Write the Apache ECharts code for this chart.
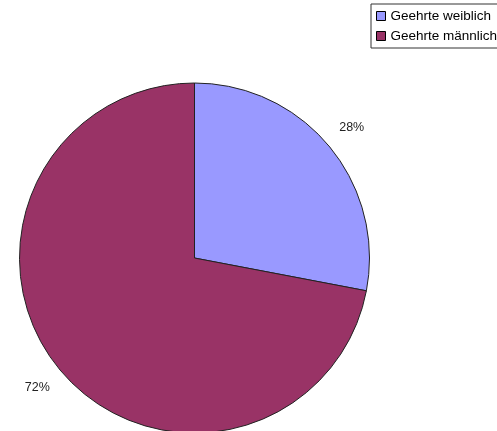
<!DOCTYPE html>
<html><head><meta charset="utf-8">
<script src="https://cdn.jsdelivr.net/npm/echarts@6/dist/echarts.min.js"></script>
<style>html,body{margin:0;padding:0;background:#fff}#c{width:497px;height:431px}</style>
</head><body><div id="c"></div>
<script>
const categories = ['Geehrte weiblich', 'Geehrte männlich'];
const values = [28, 72];
const colors = ['#9999FF', '#993366'];

const data = categories.map((n, i) => ({ name: n, value: values[i], itemStyle: { color: colors[i] } }));
const chart = echarts.init(document.getElementById('c'), null, { renderer: 'canvas' });
chart.setOption({
  animation: false,
  backgroundColor: '#fff',
  legend: {
    orient: 'vertical', left: 371, top: 4,
    data: categories,
    itemWidth: 9, itemHeight: 9, itemGap: 6,
    icon: 'rect',
    padding: [5, 20, 5, 5],
    borderColor: '#333', borderWidth: 1,
    textStyle: { fontFamily: 'Liberation Sans, Arial, sans-serif', fontSize: 13.5, color: '#000' },
    itemStyle: { borderColor: '#000', borderWidth: 1 }
  },
  series: [{
    type: 'pie', center: [194.5, 258], radius: 175,
    startAngle: 90, clockwise: true, silent: true,
    data: data,
    itemStyle: { borderColor: '#222', borderWidth: 1 },
    label: { show: false }, labelLine: { show: false }
  }, {
    type: 'pie', center: [194.5, 258], radius: [0, 402],
    startAngle: 90, clockwise: true, silent: true, z: 1,
    legendHoverLink: false,
    data: categories.map((n, i) => ({ name: n, value: values[i], itemStyle: { color: 'rgba(0,0,0,0)', borderWidth: 0 } })),
    label: { show: true, position: 'inside', formatter: p => Math.round(p.percent) + '%',
      fontFamily: 'Liberation Sans, Arial, sans-serif', fontSize: 12.5, color: '#222' },
    labelLine: { show: false }
  }]
});
</script></body></html>
